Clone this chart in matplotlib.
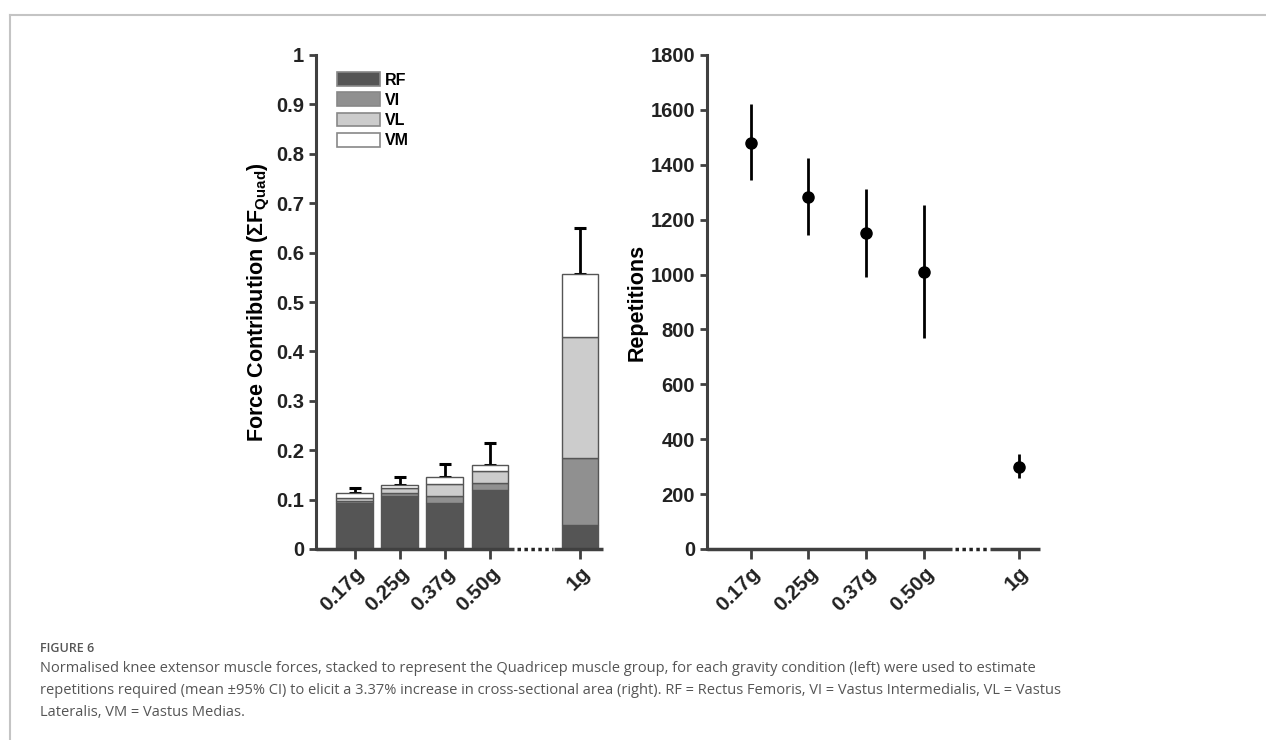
import matplotlib
matplotlib.use("Agg")
import numpy as np
from matplotlib import pyplot as plt
from matplotlib.lines import Line2D
from matplotlib.patches import Patch

# gravity conditions
conditions = ['0.17g', '0.25g', '0.37g', '0.50g', '1g']
bar_pos = [1, 2, 3, 4, 6]
rep_pos = [1, 2, 3, 4, 5.64]

# stacked muscle force contribution (fraction of sum F quad)
rf = [0.094, 0.108, 0.094, 0.119, 0.049]
vi = [0.004, 0.005, 0.014, 0.014, 0.136]
vl = [0.006, 0.010, 0.024, 0.025, 0.244]
vm = [0.009, 0.007, 0.013, 0.012, 0.127]
force_err = [0.011, 0.016, 0.028, 0.044, 0.094]

# repetitions, mean and 95% CI
reps = [1480, 1283, 1150, 1010, 300]
reps_lo = [1345, 1145, 990, 770, 258]
reps_hi = [1620, 1425, 1312, 1252, 345]

muscles = ['RF', 'VI', 'VL', 'VM']
colours = ['#555555', '#909090', '#cccccc', '#ffffff']

plt.rcParams['font.family'] = ['Liberation Sans', 'DejaVu Sans']
plt.rcParams['mathtext.fontset'] = 'custom'
plt.rcParams['mathtext.bf'] = 'Liberation Sans:bold'
plt.rcParams['mathtext.rm'] = 'Liberation Sans:bold'
plt.rcParams['mathtext.it'] = 'Liberation Sans:bold'

spine_col = '#404040'
fig = plt.figure(figsize=(12.66, 7.40), dpi=100)
H = 740.0
W = 1266.0
bot = (H - 549) / H
top = (H - 55) / H
ax1 = fig.add_axes([316 / W, bot, (603 - 316) / W, top - bot])
ax2 = fig.add_axes([707 / W, bot, (1040 - 707) / W, top - bot])

def style(ax):
    for s in ['top', 'right', 'bottom']:
        ax.spines[s].set_visible(False)
    ax.spines['left'].set_color(spine_col)
    ax.spines['left'].set_linewidth(2.2)
    ax.tick_params(axis='both', colors=spine_col, width=2, length=5,
                   labelcolor='#222222', labelsize=14.5)
    ax.tick_params(axis='x', bottom=True, length=7, labelsize=15)
    for lab in ax.get_yticklabels() + ax.get_xticklabels():
        lab.set_fontweight('bold')

# left: stacked bars
bottom = np.zeros(len(rf))
for vals, col, name in zip([rf, vi, vl, vm], colours, muscles):
    ax1.bar(bar_pos, vals, bottom=bottom, width=0.82, color=col,
            edgecolor='#555555', linewidth=1, label=name, zorder=3)
    bottom = bottom + np.array(vals)
ax1.errorbar(bar_pos, bottom, yerr=[np.zeros(len(rf)), force_err], fmt='none',
             ecolor='black', elinewidth=2, capsize=4.5, capthick=2.2, zorder=2)
ax1.set_xlim(0.137, 6.51)
ax1.set_ylim(0, 1)
ax1.set_yticks(np.arange(0, 1.01, 0.1))
ax1.set_yticklabels(['0'] + ['%.1f' % v for v in np.arange(0.1, 0.95, 0.1)] + ['1'])
ax1.set_xticks(bar_pos)
ax1.set_xticklabels(conditions, rotation=45, ha='right', rotation_mode='anchor')
ax1.set_ylabel(r'Force Contribution ($\Sigma$F$_{\mathbf{Quad}}$)',
               fontsize=15.5, fontweight='bold', labelpad=3)
style(ax1)
handles = [Patch(facecolor=c, edgecolor='#888888', linewidth=1.2) for c in colours]
leg = ax1.legend(handles, muscles, loc='upper left', bbox_to_anchor=(0.052, 0.978),
                 frameon=False, prop={'weight': 'bold', 'size': 11.5},
                 handlelength=2.7, handleheight=0.95, handletextpad=0.3,
                 labelspacing=0.3, borderaxespad=0)

# right: repetitions
yerr = [np.array(reps) - np.array(reps_lo), np.array(reps_hi) - np.array(reps)]
ax2.errorbar(rep_pos, reps, yerr=yerr, fmt='o', color='black', markersize=8,
             elinewidth=2, capsize=0, zorder=3)
ax2.set_xlim(0.243, 6.01)
ax2.set_ylim(0, 1800)
ax2.set_yticks(np.arange(0, 1801, 200))
ax2.set_xticks(rep_pos)
ax2.set_xticklabels(conditions, rotation=45, ha='right', rotation_mode='anchor')
ax2.set_ylabel('Repetitions', fontsize=15.5, fontweight='bold', labelpad=2)
style(ax2)

# broken bottom axes
def broken_axis(ax, x0, a, b, c, x1):
    tr = ax.get_xaxis_transform()
    ax.plot([x0, a], [0, 0], color=spine_col, lw=2.5, transform=tr, clip_on=False,
            solid_capstyle='butt', zorder=5)
    ax.plot([a + 0.05, b], [0, 0], color='#222222', lw=2.5, ls=(0, (1, 1)),
            transform=tr, clip_on=False, zorder=5)
    ax.plot([c, x1], [0, 0], color=spine_col, lw=2.5, transform=tr, clip_on=False,
            solid_capstyle='butt', zorder=5)

broken_axis(ax1, 0.137, 4.54, 5.40, 5.42, 6.51)
broken_axis(ax2, 0.243, 4.49, 5.11, 5.15, 6.01)

# figure frame
fig.add_artist(Line2D([9.5 / W, 1.0], [1 - 14.5 / H, 1 - 14.5 / H], color='#c4c4c4', lw=1.5))
fig.add_artist(Line2D([9.5 / W, 9.5 / W], [0, 1 - 14.5 / H], color='#c4c4c4', lw=1.5))

cap_col = '#555555'
fig.text(40 / W, 1 - 648 / H, 'FIGURE 6', family='Open Sans', fontweight='semibold',
         fontsize=9, color=cap_col, va='center')
lines = [
    'Normalised knee extensor muscle forces, stacked to represent the Quadricep muscle group, '
    'for each gravity condition (left) were used to estimate',
    'repetitions required (mean \u00b195% CI) to elicit a 3.37% increase in cross-sectional area '
    '(right). RF = Rectus Femoris, VI = Vastus Intermedialis, VL = Vastus',
    'Lateralis, VM = Vastus Medias.',
]
for i, t in enumerate(lines):
    fig.text(40 / W, 1 - (669 + 21.5 * i) / H, t, family='Open Sans', fontsize=10.5,
             color=cap_col, va='center')

fig.savefig('out.png', dpi=100)
